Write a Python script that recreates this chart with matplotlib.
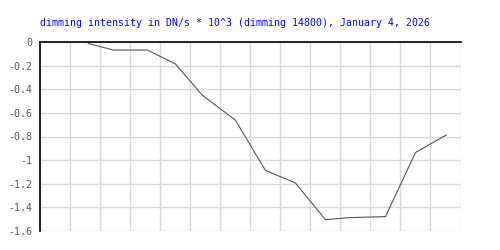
import matplotlib
matplotlib.use("Agg")
import matplotlib.pyplot as plt

title = "dimming intensity in DN/s * 10^3 (dimming 14800), January 4, 2026"
x_vals = [1.6, 2.43, 3.57, 4.5, 5.4, 6.5, 7.5, 8.5, 9.5, 10.27, 11.5, 12.5, 13.53]
y_vals = [-0.01, -0.066, -0.066, -0.184, -0.45, -0.661, -1.088, -1.194, -1.506, -1.489, -1.48, -0.936, -0.787]
y_ticks = [0, -0.2, -0.4, -0.6, -0.8, -1.0, -1.2, -1.4, -1.6]
y_tick_labels = ["0", "-0.2", "-0.4", "-0.6", "-0.8", "-1", "-1.2", "-1.4", "-1.6"]
x_grid = list(range(0, 15))

fig = plt.figure(figsize=(5, 2.5), dpi=100)
ax = fig.add_axes([0.0806, 0.077, 0.8404, 0.754])
ax.plot(x_vals, y_vals, color="#555555", linewidth=0.8, zorder=3)
ax.set_xlim(0, 14)
ax.set_ylim(-1.6, 0)
ax.set_xticks(x_grid)
ax.set_xticklabels([])
ax.set_yticks(y_ticks)
ax.set_yticklabels(y_tick_labels, family="DejaVu Sans Mono", fontsize=7.2, color="#555555")
ax.tick_params(axis="both", length=0, pad=6)
ax.grid(True, color="#dadada", linewidth=1.0)
ax.set_axisbelow(True)
for s in ["bottom", "right"]:
    ax.spines[s].set_visible(False)
for s in ["top", "left"]:
    ax.spines[s].set_color("black")
    ax.spines[s].set_linewidth(1.2)
    ax.spines[s].set_zorder(4)
fig.text(0.079, 0.909, title, family="DejaVu Sans Mono", fontsize=7.1, color="#0000ff",
         ha="left", va="center")
fig.savefig("out.png", dpi=100, facecolor="white")
